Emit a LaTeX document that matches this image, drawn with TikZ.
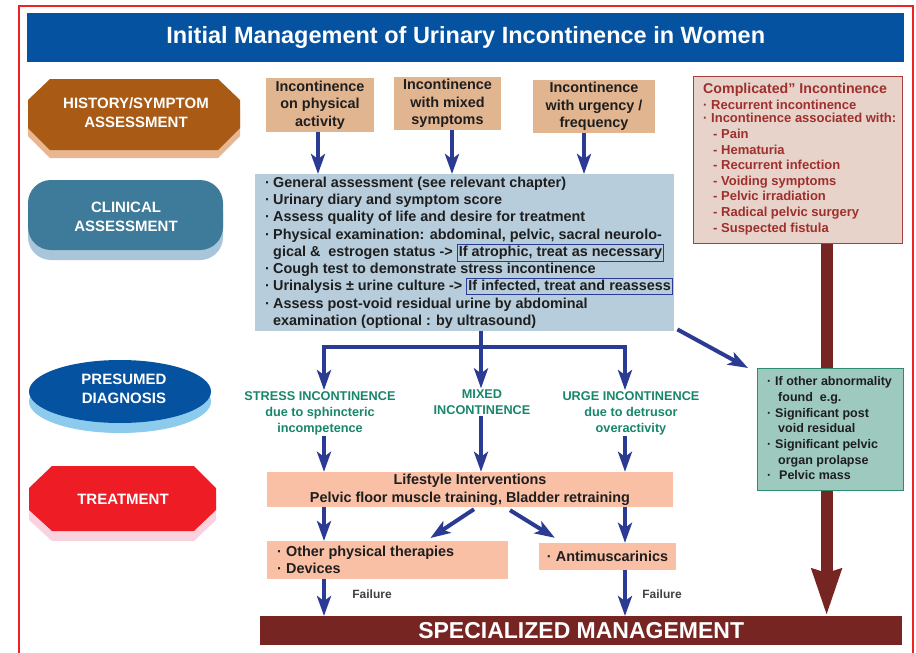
\documentclass[tikz,border=0pt]{standalone}
\usepackage{fontspec}
\setmainfont{Liberation Sans}
\usetikzlibrary{arrows.meta}
\definecolor{titleblue}{HTML}{0452A0}
\definecolor{histbrown}{HTML}{A95A14}
\definecolor{histshadow}{HTML}{E8B690}
\definecolor{clinteal}{HTML}{3E7A99}
\definecolor{clinshadow}{HTML}{A9C5D9}
\definecolor{presblue}{HTML}{0552A0}
\definecolor{presshadow}{HTML}{8DCBEC}
\definecolor{treatred}{HTML}{EE1D25}
\definecolor{treatshadow}{HTML}{F8D3DF}
\definecolor{tanfill}{HTML}{E2B591}
\definecolor{clinfill}{HTML}{B7CDDB}
\definecolor{compfill}{HTML}{E8D3CA}
\definecolor{compline}{HTML}{A5403D}
\definecolor{comptext}{HTML}{9E2F2C}
\definecolor{greenfill}{HTML}{9DC9BF}
\definecolor{greenline}{HTML}{2C8C6E}
\definecolor{diaggreen}{HTML}{17866A}
\definecolor{salmon}{HTML}{F9C0A6}
\definecolor{arrowblue}{HTML}{2B3A92}
\definecolor{maroon}{HTML}{772523}
\definecolor{framered}{HTML}{EE2222}
\definecolor{textdark}{HTML}{1E1E1E}
\newcommand{\bl}{\makebox[8pt][l]{·}}
\newcommand{\blw}[1]{\makebox[#1][l]{·}}
\newcommand{\ind}[1]{\hspace*{#1}}
\newcommand{\hlbox}[1]{{\setlength{\fboxsep}{1.2pt}\setlength{\fboxrule}{0.9pt}\smash{\fcolorbox{arrowblue}{clinfill}{#1}}}}
\newcommand{\fMain}{\fontsize{14.4}{17.3}\selectfont}
\begin{document}
\begin{tikzpicture}[x=1pt,y=-1pt,font=\bfseries,
  lefttext/.style={text=white,align=center,inner sep=0pt,font=\bfseries\fontsize{15}{19}\selectfont},
  tanbox/.style={fill=tanfill,inner sep=0pt,align=center,text=textdark,font=\bfseries\fMain},
  salbox/.style={fill=salmon,inner sep=0pt,align=center,text=textdark,font=\bfseries\fMain},
  diagtext/.style={text=diaggreen,align=center,inner sep=1pt,font=\bfseries\fontsize{12.7}{16}\selectfont},
  failtext/.style={text=textdark!85,inner sep=0pt,font=\bfseries\fontsize{12}{14}\selectfont},
  barrow/.style={draw=arrowblue,line width=4pt,-{Stealth[length=20pt,width=14pt,inset=5pt]}},
  bline/.style={draw=arrowblue,line width=4pt},
  marrow/.style={draw=maroon,line width=12pt,-{Stealth[length=46pt,width=28pt,inset=3pt]}}]
\useasboundingbox (0,0) rectangle (916,653);
\fill[white] (0,0) rectangle (916,653);
\draw[framered,line width=1.3pt] (19,6) rectangle (913,680);
% title
\node[fill=titleblue,anchor=north west,minimum width=877pt,minimum height=49pt,inner sep=0pt,text=white,font=\bfseries\fontsize{23.5}{28}\selectfont] (title) at (27,13) {Initial Management of Urinary Incontinence in Women};
% left stage labels
\fill[histshadow] (28,108) -- (50,87) -- (218,87) -- (240,108) -- (240,136) -- (218,158) -- (50,158) -- (28,136) -- cycle;
\fill[histbrown] (28,100) -- (50,79) -- (218,79) -- (240,100) -- (240,128) -- (218,150) -- (50,150) -- (28,128) -- cycle;
\node[lefttext] (hist) at (136,112.5) {HISTORY/SYMPTOM\\ASSESSMENT};
\fill[clinshadow,rounded corners=23pt] (28,190) rectangle (223,260);
\fill[clinteal,rounded corners=23pt] (28,180) rectangle (223,250);
\node[lefttext] (clinlab) at (126,216.5) {CLINICAL\\ASSESSMENT};
\fill[presshadow] (120,401.5) ellipse [x radius=91pt,y radius=31.5pt];
\fill[presblue] (120,391.5) ellipse [x radius=91pt,y radius=31.5pt];
\node[lefttext] (pres) at (124,388.5) {PRESUMED\\DIAGNOSIS};
\fill[treatshadow] (29,498) -- (52,476) -- (194,476) -- (216,498) -- (216,520) -- (194,541) -- (52,541) -- (29,520) -- cycle;
\fill[treatred] (29,488) -- (52,466) -- (194,466) -- (216,488) -- (216,510) -- (194,531) -- (52,531) -- (29,510) -- cycle;
\node[lefttext] (treat) at (123,499) {TREATMENT};
% top boxes
\node[tanbox,minimum width=108pt,minimum height=54pt] (b1) at (320,105) {Incontinence\\on physical\\activity};
\node[tanbox,minimum width=107pt,minimum height=53pt] (b2) at (447.5,103.5) {Incontinence\\with mixed\\symptoms};
\node[tanbox,minimum width=122pt,minimum height=53pt] (b3) at (594,106.5) {Incontinence\\with urgency /\\frequency};
% clinical box
\node[fill=clinfill,anchor=north west,minimum width=419pt,minimum height=157pt,inner sep=0pt] (clin) at (255,174) {};
\node[anchor=north west,align=left,inner sep=0pt,text=textdark,font=\bfseries\fMain] (clintext) at (265,176.5) {%
\bl General assessment (see relevant chapter)\\
\bl Urinary diary and symptom score\\
\bl Assess quality of life and desire for treatment\\
\bl Physical examination: abdominal, pelvic, sacral neurolo-\\
\ind{8pt}gical \&\ \ estrogen status -> \hlbox{If atrophic, treat as necessary}\\
\bl Cough test to demonstrate stress incontinence\\
\bl Urinalysis ± urine culture -> \hlbox{If infected, treat and reassess}\\
\bl Assess post-void residual urine by abdominal\\
\ind{8pt}examination (optional : by ultrasound)};
\draw[barrow] ([xshift=-2pt]b1.south) -- ([xshift=-2pt]b1.south |- clin.north);
\draw[barrow] ([xshift=4.5pt]b2.south) -- ([xshift=4.5pt]b2.south |- clin.north);
\draw[barrow] ([xshift=-10pt]b3.south) -- ([xshift=-10pt]b3.south |- clin.north);
% complicated box
\node[fill=compfill,draw=compline,line width=1.2pt,anchor=north west,minimum width=209pt,minimum height=167pt,inner sep=0pt] (comp) at (693,76) {};
\node[anchor=north west,align=left,inner sep=0pt,text=comptext,font=\bfseries\fontsize{13}{15.6}\selectfont] (comptxt) at (703,83.5) {%
{\fontsize{14.2}{15.6}\selectfont Complicated” Incontinence}\\[0.4pt]
\bl Recurrent incontinence\\[-2.6pt]
\bl Incontinence associated with:\\
\ind{10pt}- Pain\\
\ind{10pt}- Hematuria\\
\ind{10pt}- Recurrent infection\\
\ind{10pt}- Voiding symptoms\\
\ind{10pt}- Pelvic irradiation\\
\ind{10pt}- Radical pelvic surgery\\
\ind{10pt}- Suspected fistula};
% bottom bar
\node[fill=maroon,anchor=north west,minimum width=642pt,minimum height=29pt,inner sep=0pt,text=white,font=\bfseries\fontsize{23}{26}\selectfont] (spec) at (260,616) {SPECIALIZED MANAGEMENT};
\draw[marrow] ([xshift=28.5pt]comp.south) -- ([xshift=28.5pt]comp.south |- spec.north);
% green box
\node[fill=greenfill,draw=greenline,line width=1.2pt,anchor=north west,minimum width=146pt,minimum height=122pt,inner sep=0pt] (green) at (757,368) {};
\node[anchor=north west,align=left,inner sep=0pt,text=textdark,font=\bfseries\fontsize{12.5}{15.7}\selectfont] (greentxt) at (767,376.5) {%
\bl If other abnormality\\
\ind{11pt}found\ \ e.g.\\
\bl Significant post\\
\ind{11pt}void residual\\
\bl Significant pelvic\\
\ind{11pt}organ prolapse\\
\blw{12pt}Pelvic mass};
\draw[barrow] ([xshift=3pt,yshift=2pt]clin.south east) -- ([xshift=-9pt]green.north west);
% presumed diagnosis
\coordinate (j) at (481,347);
\coordinate (jl) at (324,347);
\coordinate (jr) at (625,347);
\node[diagtext] (stress) at (320,413) {STRESS INCONTINENCE\\due to sphincteric\\incompetence};
\node[diagtext] (mixed) at (482,402) {MIXED\\INCONTINENCE};
\node[diagtext] (urge) at (631,413) {URGE INCONTINENCE\\due to detrusor\\overactivity};
\draw[bline] ([xshift=-2pt]jl) -- ([xshift=2pt]jr);
\draw[barrow] (clin.south -| j) -- (j |- mixed.north);
\draw[barrow] ([yshift=2pt]jl) -- (jl |- stress.north);
\draw[barrow] ([yshift=2pt]jr) -- (jr |- urge.north);
% treatment
\node[salbox,minimum width=406pt,minimum height=35pt,font=\bfseries\fontsize{14.4}{18}\selectfont] (life) at (470,489.5) {Lifestyle Interventions\\Pelvic floor muscle training, Bladder retraining};
\node[fill=salmon,anchor=north west,minimum width=241pt,minimum height=38pt,inner sep=0pt] (other) at (267,541) {};
\node[anchor=north west,align=left,inner sep=0pt,text=textdark,font=\bfseries\fontsize{14.4}{17}\selectfont] (othertxt) at (277,545.5) {\blw{9pt}Other physical therapies\\\blw{9pt}Devices};
\node[salbox,minimum width=137pt,minimum height=27pt] (anti) at (607.5,556.5) {\blw{9pt}Antimuscarinics};
\draw[barrow] (stress.south -| jl) -- (jl |- life.north);
\draw[barrow] (mixed.south -| j) -- (j |- life.north);
\draw[barrow] (urge.south -| jr) -- (jr |- life.north);
\draw[barrow] (life.south -| jl) -- (other.north -| jl);
\draw[barrow] ([xshift=4pt,yshift=-2pt]life.south) -- ([xshift=-78pt,yshift=3pt]other.north east);
\draw[barrow] ([xshift=40pt,yshift=-3pt]life.south) -- ([xshift=16pt,yshift=5pt]anti.north west);
\draw[barrow] (life.south -| jr) -- (anti.north -| jr);
\draw[barrow] (other.south -| jl) -- (spec.north -| jl);
\draw[barrow] (anti.south -| jr) -- (spec.north -| jr);
\node[failtext] (fail1) at (372,594) {Failure};
\node[failtext] (fail2) at (662,594) {Failure};
\end{tikzpicture}
\end{document}
